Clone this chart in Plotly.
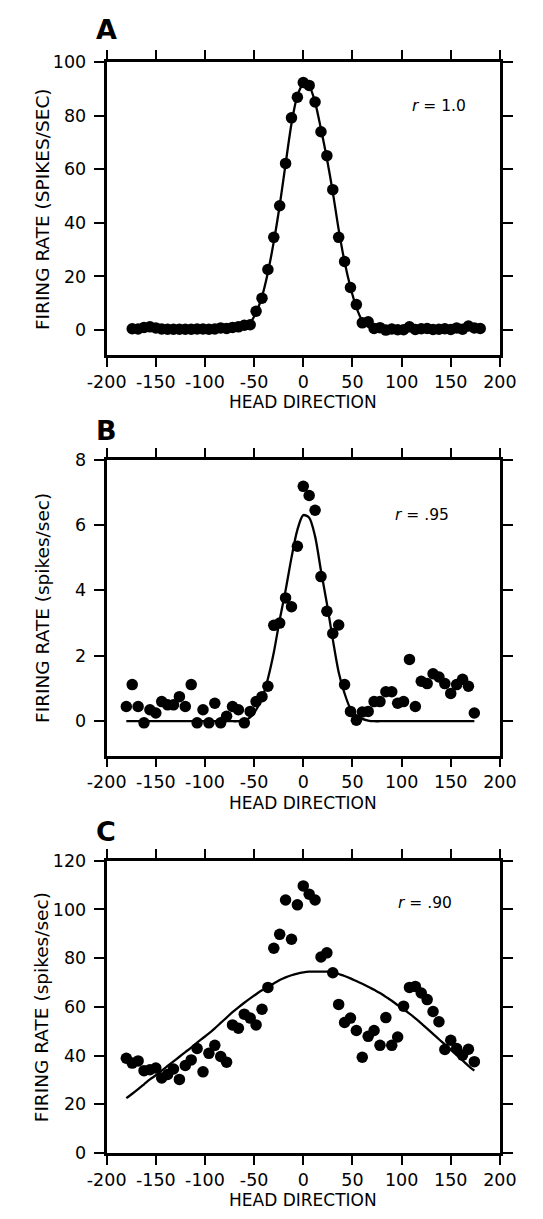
import plotly.graph_objects as go

# ---------------- data ----------------
dir_a = list(range(-174, 181, 6))
rate_a = [0.5, 0.4, 1.0, 1.2, 0.8, 0.4, 0.3, 0.3, 0.3, 0.3,
          0.3, 0.4, 0.4, 0.3, 0.4, 0.8, 0.6, 1.0, 1.2, 1.8,
          2.0, 7.0, 11.9, 22.6, 34.6, 46.4, 62.2, 79.2, 86.9, 92.4,
          91.3, 85.1, 74.0, 65.1, 52.4, 34.6, 25.6, 15.9, 9.5, 2.7,
          3.1, 0.6, 0.9, 0.0, 0.4, 0.1, 0.1, 1.2, 0.2, 0.5,
          0.6, 0.2, 0.3, 0.5, 0.2, 0.8, 0.3, 1.5, 0.8, 0.6]
fit_a = [0.5, 0.5, 0.5, 0.5, 0.5, 0.5, 0.5, 0.5, 0.5, 0.5,
         0.5, 0.5, 0.5, 0.5, 0.5, 0.5, 0.5, 0.6, 0.7, 1.0,
         2.8, 6.5, 12.5, 21.5, 33.0, 46.5, 62.0, 77.0, 87.5, 91.8,
         91.0, 85.0, 75.0, 64.0, 51.5, 37.5, 25.5, 16.0, 8.5, 3.5,
         1.2, 0.6, 0.5, 0.5, 0.5, 0.5, 0.5, 0.5, 0.5, 0.5,
         0.5, 0.5, 0.5, 0.5, 0.5, 0.5, 0.5, 0.5, 0.5, 0.5]

dir_b = list(range(-180, 175, 6))
rate_b = [0.45, 1.12, 0.45, -0.05, 0.35, 0.25, 0.6, 0.5, 0.5, 0.75,
          0.45, 1.12, -0.05, 0.35, -0.05, 0.55, -0.05, 0.15, 0.45, 0.35,
          -0.05, 0.3, 0.6, 0.75, 1.07, 2.93, 3.0, 3.77, 3.5, 5.35,
          7.18, 6.9, 6.45, 4.42, 3.36, 2.68, 2.94, 1.12, 0.3, 0.03,
          0.28, 0.3, 0.6, 0.6, 0.9, 0.9, 0.55, 0.6, 1.89, 0.45,
          1.22, 1.15, 1.45, 1.35, 1.15, 0.85, 1.12, 1.28, 1.07, 0.25]
fit_b = [0, 0, 0, 0, 0, 0, 0, 0, 0, 0,
         0, 0, 0, 0, 0, 0, 0, 0, 0, 0,
         0.03, 0.12, 0.35, 0.7, 1.3, 2.1, 3.1, 4.0, 5.0, 5.85,
         6.3, 6.22, 5.65, 4.6, 3.6, 2.5, 1.5, 0.85, 0.38, 0.17,
         0.07, 0.02, 0, 0, 0, 0, 0, 0, 0, 0,
         0, 0, 0, 0, 0, 0, 0, 0, 0, 0]

dir_c = list(range(-180, 175, 6))
rate_c = [38.9, 36.9, 37.8, 33.8, 34.2, 34.9, 30.8, 32.2, 34.5, 30.2,
          35.9, 38.2, 42.9, 33.3, 40.9, 44.2, 39.6, 37.3, 52.6, 51.2,
          57.0, 55.4, 52.6, 59.0, 68.0, 84.1, 89.8, 103.9, 87.8, 101.9,
          109.7, 106.3, 103.9, 80.5, 82.2, 74.0, 61.0, 53.6, 55.4, 50.3,
          39.3, 47.9, 50.3, 44.2, 55.6, 44.2, 47.6, 60.3, 68.0, 68.4,
          65.7, 63.0, 58.1, 53.9, 42.5, 46.3, 42.9, 40.2, 42.6, 37.5]
fit_c = [22.5, 24.3, 26.2, 28.2, 30.2, 31.9, 33.8, 35.7, 37.6, 39.5,
         41.4, 43.3, 45.3, 47.2, 49.1, 51.2, 53.4, 55.6, 57.8, 59.8,
         61.7, 63.5, 65.2, 66.8, 68.2, 69.6, 71.0, 72.1, 73.0, 73.7,
         74.2, 74.5, 74.5, 74.5, 74.5, 74.3, 73.5, 72.7, 71.7, 70.6,
         69.5, 68.3, 67.0, 65.7, 64.1, 62.5, 60.7, 59.0, 57.2, 55.3,
         53.2, 51.1, 48.9, 46.7, 44.6, 42.4, 40.2, 38.0, 35.8, 33.8]

x_ticks = [-200, -150, -100, -50, 0, 50, 100, 150, 200]
x_tick_text = ["-200", "-150", "-100", "-50", "0", "50", "100", "150", "200"]
y_ticks_a = [0, 20, 40, 60, 80, 100]
y_ticks_b = [0, 2, 4, 6, 8]
y_ticks_c = [0, 20, 40, 60, 80, 100, 120]

panel_letters = ["A", "B", "C"]
r_labels = ["<i>r</i> = 1.0", "<i>r</i> = .95", "<i>r</i> = .90"]
y_titles = ["FIRING RATE (SPIKES/SEC)", "FIRING RATE (spikes/sec)", "FIRING RATE (spikes/sec)"]
x_title = "HEAD DIRECTION"

# ---------------- layout geometry (pixels) ----------------
W, H = 543, 1219
X_LEFT, X_RIGHT = 93, 515
panels = [
    dict(top=53, bottom=351, yr=[-9.4, 100], rx=419, ry=98, ly=20, ty=399, so=0),
    dict(top=457, bottom=758, yr=[-1.05, 8], rx=400, ry=513, ly=428, ty=806, so=0),
    dict(top=865, bottom=1162, yr=[0, 120], rx=403, ry=908, ly=835, ty=1210, so=0),
]

FONT = "DejaVu Sans, Verdana, sans-serif"

def py(p):
    return 1 - p / H

def pxx(p):
    return p / W

fig = go.Figure()
datasets = [(dir_a, rate_a, fit_a, y_ticks_a), (dir_b, rate_b, fit_b, y_ticks_b),
            (dir_c, rate_c, fit_c, y_ticks_c)]

annotations = []
for i, (xs, ys, fs, yt) in enumerate(datasets):
    n = "" if i == 0 else str(i + 1)
    xa, ya = "x" + n, "y" + n
    fig.add_trace(go.Scatter(x=xs, y=fs, mode="lines", xaxis=xa, yaxis=ya,
                             line=dict(color="black", width=2.3, shape="spline", smoothing=0.8),
                             showlegend=False, hoverinfo="skip"))
    fig.add_trace(go.Scatter(x=xs, y=ys, mode="markers", xaxis=xa, yaxis=ya,
                             marker=dict(color="black", size=11.5, line=dict(width=0)),
                             showlegend=False))
    p = panels[i]
    axis_common = dict(showline=True, linewidth=2.8, linecolor="black", mirror="ticks",
                       ticks="outside", tickwidth=2.2, tickcolor="black",
                       showgrid=False, zeroline=False,
                       tickfont=dict(family=FONT, size=17.5, color="black"))
    fig.update_layout(**{
        "xaxis" + n: dict(domain=[pxx(X_LEFT), pxx(X_RIGHT)], range=[-200, 200],
                          tickvals=x_ticks, ticktext=x_tick_text, anchor=ya, ticklen=9,
                          ticklabelstandoff=p["so"], **axis_common),
        "yaxis" + n: dict(domain=[py(p["bottom"]), py(p["top"])], range=p["yr"],
                          tickvals=yt, anchor=xa, ticklen=10, ticklabelstandoff=4, **axis_common),
    })
    annotations.append(dict(text=panel_letters[i], x=pxx(79), y=py(p["ly"]), xref="paper", yref="paper",
                            xanchor="left", yanchor="middle", showarrow=False,
                            font=dict(family=FONT, size=27, color="black", weight="bold")))
    annotations.append(dict(text=r_labels[i], x=pxx(p["rx"]), y=py(p["ry"]), xref="paper", yref="paper",
                            xanchor="left", yanchor="middle", showarrow=False,
                            font=dict(family=FONT, size=15.5, color="black")))
    annotations.append(dict(text=x_title, x=pxx((X_LEFT + X_RIGHT) / 2), y=py(p["ty"]),
                            xref="paper", yref="paper", xanchor="center", yanchor="middle",
                            showarrow=False, font=dict(family=FONT, size=17, color="black")))
    annotations.append(dict(text=y_titles[i], x=pxx(24), y=py((p["top"] + p["bottom"]) / 2),
                            xref="paper", yref="paper", xanchor="center", yanchor="middle",
                            textangle=-90, showarrow=False,
                            font=dict(family=FONT, size=18.5, color="black")))

fig.update_layout(width=W, height=H, autosize=False, margin=dict(l=0, r=0, t=0, b=0),
                  paper_bgcolor="white", plot_bgcolor="white", annotations=annotations)

fig.write_html("out.html")
